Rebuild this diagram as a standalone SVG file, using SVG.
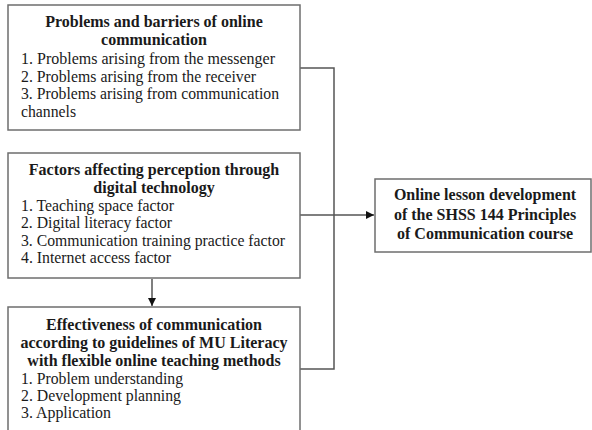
<svg xmlns="http://www.w3.org/2000/svg" width="592" height="430" viewBox="0 0 592 430">
<defs>
<style>
.box{fill:#fff;stroke:#6e6e6e;stroke-width:1.5}
.t{font-family:"Liberation Serif","Times New Roman",serif;font-size:16px;fill:#1a1a1a}
.b{font-weight:bold;text-anchor:middle}
.c{fill:none;stroke:#555;stroke-width:1.5}
</style>
<marker id="ah" viewBox="0 0 10 10" refX="10" refY="5" markerWidth="8" markerHeight="8" markerUnits="userSpaceOnUse" orient="auto">
<path d="M0,0 L10,5 L0,10 z" fill="#111"/>
</marker>
</defs>
<rect width="592" height="430" fill="#fff"/>
<g id="connectors">
<polyline class="c" points="300,68 334,68 334,369 300,369"/>
<line class="c" x1="300" y1="215" x2="374" y2="215" marker-end="url(#ah)"/>
<line class="c" x1="152" y1="279" x2="152" y2="306" marker-end="url(#ah)"/>
</g>
<g id="n1">
<rect class="box" x="8" y="5" width="292" height="125"/>
<text class="t b" x="154" y="27">Problems and barriers of online</text>
<text class="t b" x="154" y="45">communication</text>
<text class="t" x="21" y="64" textLength="254" lengthAdjust="spacingAndGlyphs">1. Problems arising from the messenger</text>
<text class="t" x="21" y="82" textLength="235" lengthAdjust="spacingAndGlyphs">2. Problems arising from the receiver</text>
<text class="t" x="21" y="99" textLength="258" lengthAdjust="spacingAndGlyphs">3. Problems arising from communication</text>
<text class="t" x="21" y="117" textLength="55" lengthAdjust="spacingAndGlyphs">channels</text>
</g>
<g id="n2">
<rect class="box" x="8" y="153" width="292" height="125"/>
<text class="t b" x="154" y="175">Factors affecting perception through</text>
<text class="t b" x="154" y="193">digital technology</text>
<text class="t" x="21" y="211" textLength="153" lengthAdjust="spacingAndGlyphs">1. Teaching space factor</text>
<text class="t" x="21" y="228" textLength="151" lengthAdjust="spacingAndGlyphs">2. Digital literacy factor</text>
<text class="t" x="21" y="246" textLength="264" lengthAdjust="spacingAndGlyphs">3. Communication training practice factor</text>
<text class="t" x="21" y="263" textLength="150" lengthAdjust="spacingAndGlyphs">4. Internet access factor</text>
</g>
<g id="n3">
<rect class="box" x="8" y="307" width="292" height="130"/>
<text class="t b" x="154" y="330">Effectiveness of communication</text>
<text class="t b" x="154" y="348">according to guidelines of MU Literacy</text>
<text class="t b" x="154" y="366">with flexible online teaching methods</text>
<text class="t" x="21" y="384" textLength="162" lengthAdjust="spacingAndGlyphs">1. Problem understanding</text>
<text class="t" x="21" y="401" textLength="160" lengthAdjust="spacingAndGlyphs">2. Development planning</text>
<text class="t" x="21" y="418" textLength="90" lengthAdjust="spacingAndGlyphs">3. Application</text>
</g>
<g id="n4">
<rect class="box" x="375" y="179" width="216" height="73"/>
<text class="t b" x="485" y="200">Online lesson development</text>
<text class="t b" x="485" y="220">of the SHSS 144 Principles</text>
<text class="t b" x="485" y="239">of Communication course</text>
</g>
</svg>
